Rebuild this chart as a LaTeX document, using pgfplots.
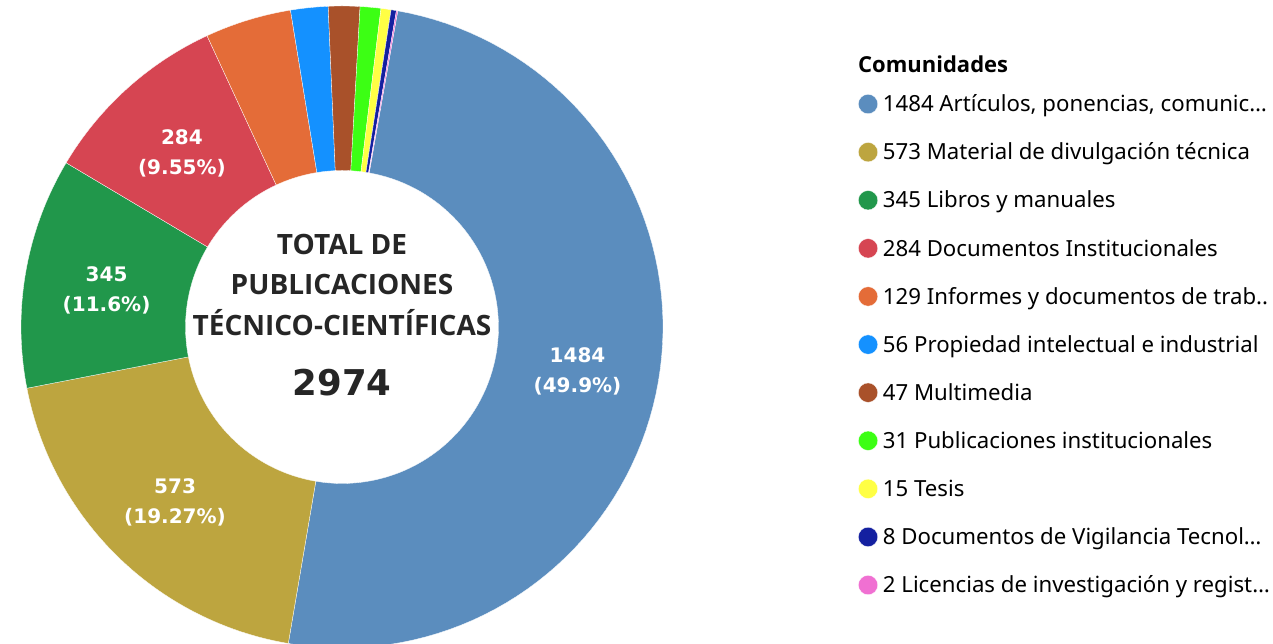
\documentclass[border=0pt]{standalone}
\usepackage{pgfplots}
\pgfplotsset{compat=1.18}
\usepackage{fontspec}
\setmainfont{Noto Sans}
\newfontfamily\osans{Open Sans}
\newfontfamily\djv{DejaVu Sans}
\definecolor{c1}{HTML}{5B8DBE}
\definecolor{c2}{HTML}{BDA53F}
\definecolor{c3}{HTML}{21974B}
\definecolor{c4}{HTML}{D64552}
\definecolor{c5}{HTML}{E46C38}
\definecolor{c6}{HTML}{1491FF}
\definecolor{c7}{HTML}{A9512A}
\definecolor{c8}{HTML}{3CFF14}
\definecolor{c9}{HTML}{FFFF44}
\definecolor{c10}{HTML}{1420A0}
\definecolor{c11}{HTML}{F070D2}
\definecolor{ctext}{HTML}{262626}
% #1 cumulative count before slice, #2 slice count, #3 colour
\newcommand{\slice}[3]{%
  \addplot[fill=#3, draw=white, line width=0.3pt, domain=0:3, samples=241]
    ({342+Rr(x)*cos(th(x,80-360*#1/2974,80-360*(#1+#2)/2974))},
     {317+Rr(x)*sin(th(x,80-360*#1/2974,80-360*(#1+#2)/2974))}) -- cycle;
}
\newcommand{\slicelabel}[4]{%
  \node[font={\djv\bfseries\fontsize{20}{30}\selectfont}, text=white, align=center, inner sep=0pt, yshift=-4pt]
    at (axis cs:{342+239*cos(80-360*(#1+#2/2)/2974)},{317+239*sin(80-360*(#1+#2/2)/2974)}) {#3\\#4};
}
\begin{document}
\begin{tikzpicture}
\begin{axis}[
  width=1273pt, height=644pt, scale only axis,
  xmin=0, xmax=1273, ymin=0, ymax=644,
  hide axis, clip=true,
  declare function={
    Rr(\sarg)=(\sarg<=1)*321+(\sarg>1)*(\sarg<2)*(321-164.5*(\sarg-1))+(\sarg>=2)*156.5;
    th(\sarg,\astart,\aend)=(\sarg<=1)*(\astart+(\aend-\astart)*\sarg)+(\sarg>1)*(\sarg<2)*\aend+(\sarg>=2)*(\aend-(\aend-\astart)*(\sarg-2));
  },
  legend image code/.code={\fill[#1] (9.7pt,0pt) circle (9.7pt);},
  legend cell align=left,
  legend style={
    at={(axis cs:858,550)}, anchor=north west,
    draw=none, fill=none, inner xsep=0pt, inner ysep=0pt,
    font={\fontsize{22.2}{26}\selectfont}, text=black,
    row sep=28.4pt,
    nodes={inner sep=0pt, text height=15.5pt, text depth=0pt},
    /tikz/every odd column/.append style={column sep=5pt},
  },
]
\slice{0}{1484}{c1}
\slice{1484}{573}{c2}
\slice{2057}{345}{c3}
\slice{2402}{284}{c4}
\slice{2686}{129}{c5}
\slice{2815}{56}{c6}
\slice{2871}{47}{c7}
\slice{2918}{31}{c8}
\slice{2949}{15}{c9}
\slice{2964}{8}{c10}
\slice{2972}{2}{c11}
\legend{
  {1484 Artículos, ponencias, comunic…},
  {573 Material de divulgación técnica},
  {345 Libros y manuales},
  {284 Documentos Institucionales},
  {129 Informes y documentos de trab..},
  {56 Propiedad intelectual e industrial},
  {47 Multimedia},
  {31 Publicaciones institucionales},
  {15 Tesis},
  {8 Documentos de Vigilancia Tecnol…},
  {2 Licencias de investigación y regist…}
}
\slicelabel{0}{1484}{1484}{(49.9\%)}
\slicelabel{1484}{573}{573}{(19.27\%)}
\slicelabel{2057}{345}{345}{(11.6\%)}
\slicelabel{2402}{284}{284}{(9.55\%)}
\node[anchor=base, font={\osans\bfseries\fontsize{28}{30}\selectfont}, text=ctext, inner sep=0pt] at (axis cs:342,389) {TOTAL DE};
\node[anchor=base, font={\osans\bfseries\fontsize{28}{30}\selectfont}, text=ctext, inner sep=0pt] at (axis cs:342,349) {PUBLICACIONES};
\node[anchor=base, font={\osans\bfseries\fontsize{28}{30}\selectfont}, text=ctext, inner sep=0pt] at (axis cs:342,308) {TÉCNICO-CIENTÍFICAS};
\node[anchor=base, font={\djv\bfseries\fontsize{35.5}{38}\selectfont}, text=ctext, inner sep=0pt] at (axis cs:342,248) {2974};
\node[anchor=base west, font={\osans\bfseries\fontsize{22}{26}\selectfont}, text=black, inner sep=0pt] at (axis cs:858,571) {Comunidades};
\coordinate (SW) at (axis cs:0,0);
\coordinate (NE) at (axis cs:1273,644);
\end{axis}
\pgfresetboundingbox
\useasboundingbox (SW) rectangle (NE);
\end{tikzpicture}
\end{document}
